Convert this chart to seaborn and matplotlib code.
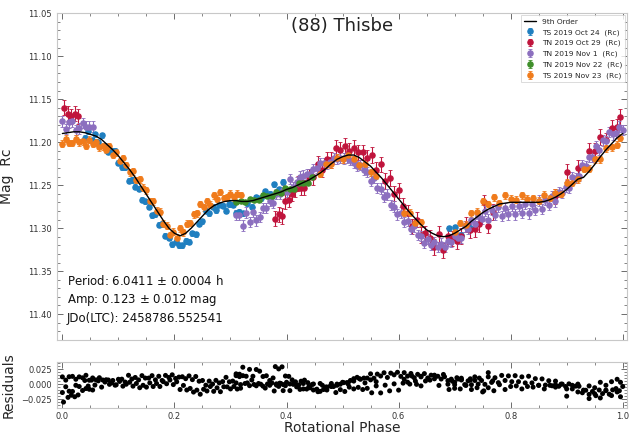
import numpy as np
import pandas as pd
import matplotlib
matplotlib.use("Agg")
import matplotlib.pyplot as plt
from matplotlib.ticker import MultipleLocator
import seaborn as sns

# ---- 9th order Fourier fit, sampled curve ----
fit_phase = [0.00, 0.01, 0.02, 0.03, 0.04, 0.05, 0.06, 0.07, 0.08, 0.09,
             0.10, 0.11, 0.12, 0.13, 0.14, 0.15, 0.16, 0.17, 0.18, 0.19,
             0.20, 0.21, 0.22, 0.23, 0.24, 0.25, 0.26, 0.27, 0.28, 0.29,
             0.30, 0.31, 0.32, 0.33, 0.34, 0.35, 0.36, 0.37, 0.38, 0.39,
             0.40, 0.41, 0.42, 0.43, 0.44, 0.45, 0.46, 0.47, 0.48, 0.49,
             0.50, 0.51, 0.52, 0.53, 0.54, 0.55, 0.56, 0.57, 0.58, 0.59,
             0.60, 0.61, 0.62, 0.63, 0.64, 0.65, 0.66, 0.67, 0.68, 0.69,
             0.70, 0.71, 0.72, 0.73, 0.74, 0.75, 0.76, 0.77, 0.78, 0.79,
             0.80, 0.81, 0.82, 0.83, 0.84, 0.85, 0.86, 0.87, 0.88, 0.89,
             0.90, 0.91, 0.92, 0.93, 0.94, 0.95, 0.96, 0.97, 0.98, 0.99, 1.00]
fit_mag = [11.190, 11.189, 11.188, 11.188, 11.189, 11.191, 11.193, 11.197, 11.203, 11.209,
           11.216, 11.224, 11.232, 11.241, 11.251, 11.261, 11.271, 11.281, 11.291, 11.300,
           11.306, 11.309, 11.306, 11.300, 11.293, 11.286, 11.279, 11.274, 11.271, 11.269,
           11.268, 11.268, 11.269, 11.269, 11.268, 11.266, 11.264, 11.262, 11.260, 11.258,
           11.255, 11.253, 11.250, 11.247, 11.244, 11.240, 11.236, 11.231, 11.225, 11.220,
           11.217, 11.215, 11.215, 11.218, 11.223, 11.228, 11.235, 11.242, 11.250, 11.258,
           11.266, 11.274, 11.282, 11.289, 11.296, 11.302, 11.306, 11.309, 11.310, 11.309,
           11.306, 11.302, 11.298, 11.292, 11.287, 11.282, 11.278, 11.275, 11.272, 11.271,
           11.270, 11.270, 11.270, 11.270, 11.270, 11.270, 11.269, 11.267, 11.264, 11.260,
           11.255, 11.249, 11.243, 11.241, 11.234, 11.226, 11.217, 11.209, 11.202, 11.195, 11.190]

# ---- TS 2019 Oct 24 ----
oct24_phase = [0.040, 0.046, 0.052, 0.058, 0.064, 0.070, 0.076, 0.082, 0.088, 0.094,
               0.100, 0.106, 0.112, 0.118, 0.124, 0.130, 0.136, 0.142, 0.148, 0.154,
               0.160, 0.166, 0.172, 0.178, 0.184, 0.190, 0.196, 0.202, 0.208, 0.214,
               0.220, 0.226, 0.232, 0.238, 0.244, 0.250, 0.256, 0.262, 0.268, 0.274,
               0.280, 0.286, 0.292, 0.298, 0.304, 0.310, 0.316, 0.322, 0.330, 0.338,
               0.346, 0.354, 0.362, 0.370, 0.378, 0.386, 0.394, 0.690, 0.700, 0.712, 0.728]
oct24_mag = [11.195, 11.187, 11.198, 11.191, 11.200, 11.192, 11.204, 11.211, 11.210, 11.210,
             11.224, 11.229, 11.229, 11.245, 11.244, 11.252, 11.254, 11.267, 11.269, 11.275,
             11.285, 11.284, 11.296, 11.295, 11.309, 11.311, 11.319, 11.316, 11.320, 11.320,
             11.315, 11.316, 11.306, 11.307, 11.295, 11.292, 11.280, 11.283, 11.275, 11.279,
             11.273, 11.274, 11.280, 11.272, 11.273, 11.282, 11.281, 11.283, 11.271, 11.275,
             11.264, 11.265, 11.257, 11.260, 11.249, 11.255, 11.246, 11.300, 11.299, 11.308, 11.300]

# ---- TN 2019 Oct 29 ----
oct29_phase = [0.002, 0.010, 0.016, 0.022, 0.028, 0.380, 0.386, 0.392, 0.398, 0.404,
               0.410, 0.416, 0.420, 0.426, 0.432, 0.440, 0.448, 0.456, 0.464, 0.472,
               0.480, 0.488, 0.496, 0.504, 0.512, 0.520, 0.528, 0.536, 0.544, 0.552,
               0.560, 0.568, 0.576, 0.584, 0.592, 0.600, 0.608, 0.616, 0.624, 0.632,
               0.640, 0.648, 0.656, 0.664, 0.672, 0.680, 0.688, 0.696, 0.704, 0.712,
               0.720, 0.728, 0.736, 0.744, 0.752, 0.760, 0.768, 0.880, 0.900, 0.920,
               0.940, 0.950, 0.960, 0.970, 0.980, 0.990, 0.996]
oct29_mag = [11.160, 11.167, 11.170, 11.167, 11.170, 11.289, 11.284, 11.286, 11.269, 11.267,
             11.260, 11.255, 11.248, 11.253, 11.253, 11.240, 11.241, 11.225, 11.232, 11.220,
             11.221, 11.207, 11.209, 11.204, 11.210, 11.207, 11.212, 11.212, 11.218, 11.215,
             11.232, 11.226, 11.245, 11.242, 11.260, 11.256, 11.274, 11.282, 11.298, 11.290,
             11.308, 11.306, 11.311, 11.322, 11.307, 11.326, 11.309, 11.312, 11.315, 11.309,
             11.296, 11.302, 11.301, 11.295, 11.270, 11.297, 11.281, 11.263, 11.235, 11.230,
             11.210, 11.210, 11.194, 11.198, 11.183, 11.182, 11.171]

# ---- TN 2019 Nov 1 ----
nov1_phase = [0.000, 0.006, 0.012, 0.018, 0.024, 0.030, 0.036, 0.042, 0.048, 0.054,
              0.310, 0.316, 0.322, 0.328, 0.334, 0.340, 0.346, 0.352, 0.358, 0.364,
              0.370, 0.376, 0.382, 0.388, 0.394, 0.400, 0.406, 0.412, 0.418, 0.424,
              0.430, 0.436, 0.442, 0.448, 0.454, 0.460, 0.466, 0.472, 0.478, 0.484,
              0.490, 0.496, 0.502, 0.508, 0.514, 0.520, 0.526, 0.532, 0.538, 0.544,
              0.550, 0.556, 0.562, 0.568, 0.574, 0.580, 0.586, 0.592, 0.598, 0.604,
              0.610, 0.616, 0.622, 0.628, 0.634, 0.640, 0.646, 0.652, 0.658, 0.664,
              0.670, 0.676, 0.682, 0.688, 0.694, 0.700, 0.706, 0.712, 0.718, 0.724,
              0.730, 0.736, 0.742, 0.748, 0.754, 0.760, 0.766, 0.772, 0.778, 0.784,
              0.790, 0.796, 0.802, 0.808, 0.814, 0.820, 0.826, 0.832, 0.838, 0.844,
              0.850, 0.856, 0.862, 0.868, 0.874, 0.880, 0.886, 0.892, 0.898, 0.904,
              0.910, 0.916, 0.922, 0.928, 0.934, 0.940, 0.946, 0.952, 0.958, 0.964,
              0.970, 0.976, 0.982, 0.988, 0.994, 1.000]
nov1_mag = [11.176, 11.185, 11.177, 11.176, 11.186, 11.184, 11.178, 11.182, 11.182, 11.182,
            11.285, 11.285, 11.297, 11.282, 11.293, 11.281, 11.291, 11.287, 11.277, 11.277,
            11.268, 11.271, 11.260, 11.260, 11.256, 11.258, 11.243, 11.252, 11.246, 11.240,
            11.239, 11.237, 11.237, 11.231, 11.230, 11.224, 11.224, 11.225, 11.223, 11.219,
            11.220, 11.218, 11.219, 11.218, 11.221, 11.224, 11.228, 11.227, 11.232, 11.235,
            11.245, 11.242, 11.253, 11.254, 11.264, 11.261, 11.273, 11.275, 11.284, 11.282,
            11.293, 11.292, 11.301, 11.298, 11.308, 11.309, 11.317, 11.313, 11.320, 11.316,
            11.322, 11.318, 11.322, 11.315, 11.316, 11.309, 11.312, 11.311, 11.298, 11.301,
            11.291, 11.295, 11.286, 11.289, 11.280, 11.290, 11.279, 11.285, 11.275, 11.286,
            11.277, 11.284, 11.274, 11.284, 11.274, 11.282, 11.272, 11.283, 11.272, 11.279,
            11.268, 11.278, 11.267, 11.273, 11.263, 11.269, 11.258, 11.259, 11.252, 11.253,
            11.241, 11.242, 11.239, 11.227, 11.228, 11.217, 11.217, 11.205, 11.209, 11.198,
            11.199, 11.188, 11.191, 11.189, 11.182, 11.186]

# ---- TN 2019 Nov 22 ----
nov22_phase = [0.310, 0.318, 0.326, 0.334, 0.342, 0.350, 0.358, 0.366, 0.374,
               0.382, 0.390, 0.398, 0.406, 0.414, 0.422, 0.430, 0.438, 0.446]
nov22_mag = [11.270, 11.268, 11.270, 11.266, 11.267, 11.267, 11.261, 11.263, 11.263,
             11.258, 11.259, 11.253, 11.254, 11.254, 11.248, 11.248, 11.247, 11.241]

# ---- TS 2019 Nov 23 ----
nov23_phase = [0.000, 0.006, 0.012, 0.018, 0.024, 0.030, 0.036, 0.042, 0.048, 0.054,
               0.060, 0.066, 0.072, 0.078, 0.084, 0.090, 0.096, 0.102, 0.108, 0.114,
               0.120, 0.126, 0.132, 0.138, 0.144, 0.150, 0.156, 0.162, 0.168, 0.174,
               0.180, 0.186, 0.192, 0.198, 0.204, 0.210, 0.216, 0.222, 0.228, 0.234,
               0.240, 0.246, 0.252, 0.258, 0.264, 0.270, 0.276, 0.282, 0.288, 0.294,
               0.300, 0.306, 0.312, 0.318, 0.460, 0.470, 0.480, 0.490, 0.500, 0.510,
               0.520, 0.530, 0.540, 0.550, 0.560, 0.610, 0.620, 0.630, 0.640, 0.700,
               0.710, 0.720, 0.730, 0.740, 0.750, 0.760, 0.770, 0.780, 0.790, 0.800,
               0.810, 0.820, 0.830, 0.840, 0.850, 0.860, 0.870, 0.880, 0.890, 0.900,
               0.910, 0.920, 0.930, 0.940, 0.950, 0.960, 0.970, 0.980, 0.990, 0.996]
nov23_mag = [11.202, 11.196, 11.201, 11.201, 11.196, 11.200, 11.199, 11.204, 11.197, 11.202,
             11.200, 11.206, 11.205, 11.209, 11.205, 11.215, 11.212, 11.222, 11.219, 11.227,
             11.235, 11.234, 11.244, 11.243, 11.253, 11.256, 11.269, 11.269, 11.280, 11.281,
             11.295, 11.297, 11.308, 11.304, 11.311, 11.300, 11.305, 11.295, 11.294, 11.284,
             11.283, 11.272, 11.276, 11.269, 11.273, 11.262, 11.266, 11.258, 11.265, 11.264,
             11.260, 11.264, 11.260, 11.262, 11.237, 11.226, 11.226, 11.218, 11.220, 11.215,
             11.220, 11.227, 11.225, 11.235, 11.239, 11.282, 11.282, 11.294, 11.293, 11.305,
             11.294, 11.296, 11.283, 11.281, 11.269, 11.272, 11.264, 11.271, 11.262, 11.266,
             11.267, 11.262, 11.266, 11.265, 11.268, 11.261, 11.265, 11.259, 11.260, 11.247,
             11.247, 11.243, 11.231, 11.231, 11.220, 11.220, 11.207, 11.206, 11.203, 11.195]

session_labels = ["TS 2019 Oct 24  (Rc)", "TN 2019 Oct 29  (Rc)", "TN 2019 Nov 1  (Rc)",
                  "TN 2019 Nov 22  (Rc)", "TS 2019 Nov 23  (Rc)"]
session_err = [0.003, 0.009, 0.006, 0.002, 0.004]
session_colors = ["#1f7fc0", "#c0143c", "#8c6fbf", "#3f8f2a", "#f07b1b"]

sessions = [(oct24_phase, oct24_mag), (oct29_phase, oct29_mag), (nov1_phase, nov1_mag),
            (nov22_phase, nov22_mag), (nov23_phase, nov23_mag)]

frames = []
for lab, err, (ph, mg) in zip(session_labels, session_err, sessions):
    frames.append(pd.DataFrame({"phase": ph, "mag": mg, "err": err, "session": lab}))
obs = pd.concat(frames, ignore_index=True)
# residuals against the fitted curve
obs["resid"] = obs["mag"] - np.interp(obs["phase"], fit_phase, fit_mag)
fit_df = pd.DataFrame({"phase": fit_phase, "mag": fit_mag})

sns.set_theme(style="ticks")
plt.rcParams["font.family"] = ["DejaVu Sans"]

fig = plt.figure(figsize=(6.31, 4.38), dpi=100)
ax = fig.add_axes([0.090, 0.224, 0.904, 0.746])
axr = fig.add_axes([0.090, 0.068, 0.904, 0.106])

for lab, col in zip(session_labels, session_colors):
    d = obs[obs["session"] == lab]
    ax.errorbar(d["phase"], d["mag"], yerr=d["err"], fmt="o", ms=3.7, color=col,
                ecolor=col, elinewidth=0.8, capsize=1.4, capthick=0.6, label=lab, zorder=2)

sns.lineplot(data=fit_df, x="phase", y="mag", ax=ax, color="black", lw=1.0,
             label="9th Order", zorder=5)

ax.set_xlim(-0.01, 1.008)
ax.set_ylim(11.43, 11.05)
ax.xaxis.set_major_locator(MultipleLocator(0.2))
ax.xaxis.set_minor_locator(MultipleLocator(0.05))
ax.yaxis.set_major_locator(MultipleLocator(0.05))
ax.yaxis.set_minor_locator(MultipleLocator(0.01))
ax.set_xticklabels([])
ax.set_xlabel("")
ax.set_ylabel("Mag  Rc", fontsize=10, labelpad=10)

handles, labels = ax.get_legend_handles_labels()
order = [labels.index("9th Order")] + [labels.index(l) for l in session_labels]
leg = ax.legend([handles[i] for i in order], [labels[i] for i in order],
                loc="upper right", fontsize=5.4, frameon=True, handlelength=1.6,
                borderaxespad=0.3, labelspacing=0.55, fancybox=False)
leg.get_frame().set_edgecolor("#cccccc")
leg.get_frame().set_linewidth(0.6)

ax.text(0.5, 11.065, "(88) Thisbe", ha="center", va="center", fontsize=13, color="#222222")
ax.text(0.008, 11.383, "Period: 6.0411 $\\pm$ 0.0004 h\nAmp: 0.123 $\\pm$ 0.012 mag\nJDo(LTC): 2458786.552541",
        ha="left", va="center", fontsize=8.5, linespacing=1.35, color="#111111")

sns.scatterplot(data=obs, x="phase", y="resid", ax=axr, color="black", s=13,
                edgecolor="none", legend=False)
axr.set_xlim(-0.01, 1.008)
axr.set_ylim(-0.04, 0.037)
axr.xaxis.set_major_locator(MultipleLocator(0.2))
axr.xaxis.set_minor_locator(MultipleLocator(0.05))
axr.yaxis.set_major_locator(MultipleLocator(0.025))
axr.yaxis.set_minor_locator(MultipleLocator(0.005))
axr.set_xlabel("Rotational Phase", fontsize=10, labelpad=0)
axr.set_ylabel("Residuals", fontsize=10, labelpad=4)

for a in (ax, axr):
    for s in a.spines.values():
        s.set_color("#c8c8c8")
        s.set_linewidth(0.8)
    a.tick_params(which="both", direction="in", top=True, right=True,
                  colors="#555555", labelcolor="#333333", labelsize=6)
    a.tick_params(which="major", length=4, width=0.6)
    a.tick_params(which="minor", length=2, width=0.5)
axr.tick_params(axis="x", pad=3)

fig.savefig("out.png", dpi=100)
